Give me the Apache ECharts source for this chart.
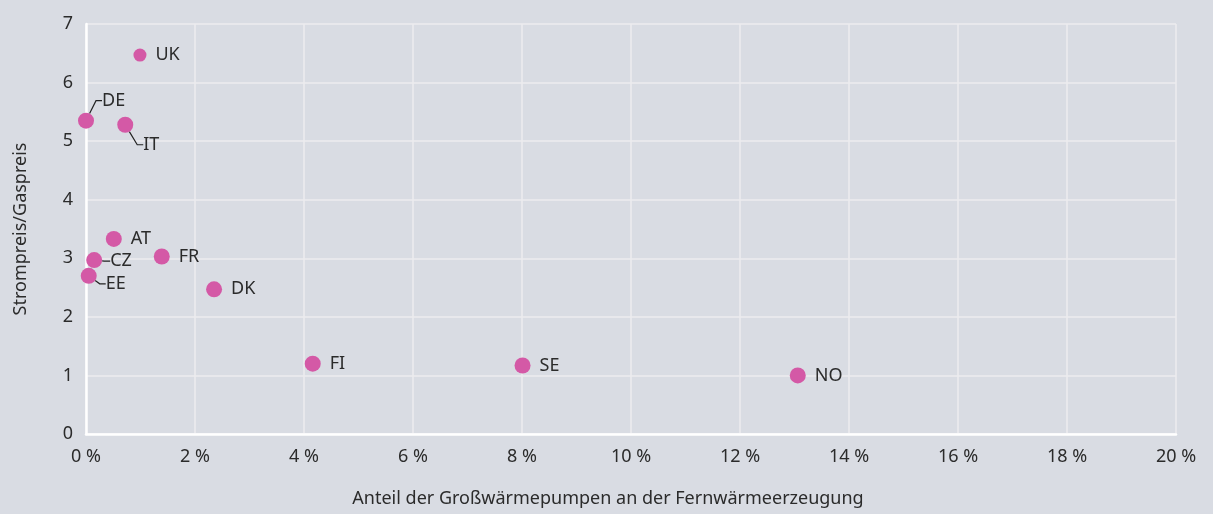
<!DOCTYPE html>
<html>
<head>
<meta charset="utf-8">
<script src="https://cdn.jsdelivr.net/npm/echarts@6/dist/echarts.min.js"></script>
<style>
html,body{margin:0;padding:0;background:#d9dce3;}
#chart{width:1213px;height:514px;}
</style>
</head>
<body>
<div id="chart"></div>
<script>
// Data
var countries = ['UK', 'DE', 'IT', 'AT', 'CZ', 'EE', 'FR', 'DK', 'FI', 'SE', 'NO'];
var heatPumpShare = [0.99, 0.0, 0.72, 0.51, 0.15, 0.05, 1.39, 2.35, 4.16, 8.01, 13.06]; // %
var priceRatio = [6.47, 5.35, 5.28, 3.33, 2.97, 2.70, 3.03, 2.47, 1.20, 1.17, 1.00];
var xTicks = [0, 2, 4, 6, 8, 10, 12, 14, 16, 18, 20];
var yTicks = [0, 1, 2, 3, 4, 5, 6, 7];

// Styles (label shifts in px, symbol sizes)
var labelShift = { DE: [-1, -20], IT: [1, 20], CZ: [-1, 1], EE: [0, 8] };
var withLeader = { DE: true, IT: true, CZ: true, EE: true };
var symbolSizes = { UK: 13 };

var FONT = '"Noto Sans", sans-serif';
var TXT = '#2b2b2b';

var data = countries.map(function (c, i) {
  var item = {
    name: c,
    value: [heatPumpShare[i], priceRatio[i]],
    symbolSize: symbolSizes[c] || 16
  };
  if (withLeader[c]) {
    item.labelLine = { show: true, length2: 6, lineStyle: { color: '#222', width: 1.2 } };
  }
  return item;
});

var chart = echarts.init(document.getElementById('chart'), null, { renderer: 'canvas' });
chart.setOption({
  backgroundColor: '#d9dce3',
  animation: false,
  grid: { left: 86, right: 37, top: 24, bottom: 80, containLabel: false },
  xAxis: {
    type: 'value',
    min: xTicks[0], max: xTicks[xTicks.length - 1], interval: xTicks[1] - xTicks[0],
    name: 'Anteil der Großwärmepumpen an der Fernwärmeerzeugung',
    nameLocation: 'middle', nameGap: 56,
    nameTextStyle: { fontFamily: FONT, fontSize: 18, color: TXT, padding: [0, 46, 0, 0] },
    axisLine: { show: true, onZero: false, lineStyle: { color: '#ffffff', width: 2.5 } },
    axisTick: { show: false },
    axisLabel: { fontFamily: FONT, fontSize: 18, color: TXT, margin: 14,
      formatter: function (v) { return v + ' %'; } },
    splitLine: { show: true, lineStyle: { color: '#ececef', width: 1.5 } }
  },
  yAxis: {
    type: 'value',
    min: yTicks[0], max: yTicks[yTicks.length - 1], interval: yTicks[1] - yTicks[0],
    name: 'Strompreis/Gaspreis',
    nameLocation: 'middle', nameGap: 56,
    nameTextStyle: { fontFamily: FONT, fontSize: 18, color: TXT },
    axisLine: { show: true, onZero: false, lineStyle: { color: '#ffffff', width: 2.5 } },
    axisTick: { show: false },
    axisLabel: { fontFamily: FONT, fontSize: 18, color: TXT, margin: 13 },
    splitLine: { show: true, lineStyle: { color: '#ececef', width: 1.5 } }
  },
  series: [{
    type: 'scatter',
    data: data,
    itemStyle: { color: '#d459a6', opacity: 1 },
    label: {
      show: true, position: 'right', distance: 9,
      formatter: '{b}', fontFamily: FONT, fontSize: 18, color: TXT
    },
    labelLayout: function (p) {
      var s = labelShift[countries[p.dataIndex]];
      if (!s) return {};
      return { dx: s[0], dy: s[1] };
    },
    emphasis: { disabled: true }
  }]
});
</script>
</body>
</html>
